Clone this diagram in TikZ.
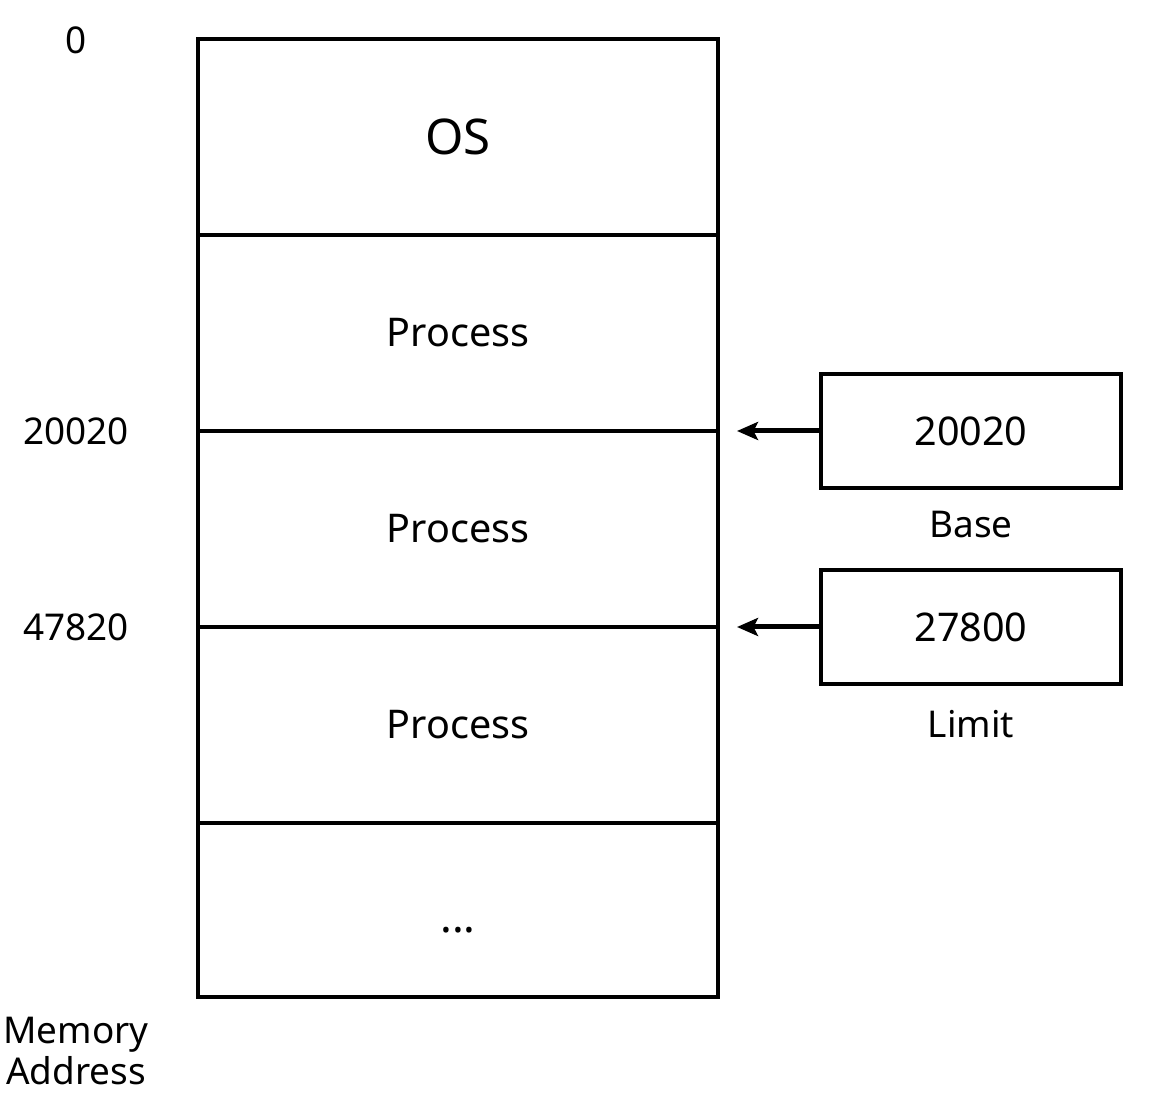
\documentclass[tikz,border=0pt]{standalone}
\usepackage{fontspec}
\setmainfont{Noto Sans}
\usetikzlibrary{arrows.meta,positioning}

\tikzset{
  seg/.style={draw, line width=0.08cm, minimum width=10.4cm, inner sep=0pt, font=\fontsize{22.5}{27}\selectfont},
  regbox/.style={draw, line width=0.07cm, minimum width=6cm, minimum height=2.28cm, inner sep=0pt, font=\fontsize{22.5}{27}\selectfont},
  addr/.style={font=\fontsize{21}{25}\selectfont, align=center},
  ptr/.style={line width=0.1cm, -{Stealth[length=0.42cm, width=0.36cm, inset=0.09cm]}}
}

\begin{document}
\begin{tikzpicture}[x=0.02cm, y=-0.02cm]
\useasboundingbox (0,0) rectangle (1154,1104);

% memory segments
\node[seg, minimum height=3.92cm] (os) at (458,137) {\fontsize{28}{33}\selectfont OS};
\node[seg, minimum height=3.92cm] (p1) at (458,333) {Process};
\node[seg, minimum height=3.92cm] (p2) at (458,529) {Process};
\node[seg, minimum height=3.92cm] (p3) at (458,725) {Process};
\node[seg, minimum height=3.48cm] (rest) at (458,910) {\smash{\raisebox{-0.45cm}{\fontsize{25}{30}\selectfont\bfseries ...}}};

% addresses
\node[addr] (a0) at (76,40) {0};
\node[addr] (a1) at (76,431) {20020};
\node[addr] (a2) at (76,627) {47820};
\node[addr, inner sep=0pt] (mem) at (76,1051) {Memory\\[-2pt]Address};

% base / limit registers
\node[regbox] (base) at (971,431) {20020};
\node[addr, below=0.3cm of base] (baselbl) {Base};
\node[regbox] (limit) at (971,627) {27800};
\node[addr, below=0.36cm of limit] (limitlbl) {Limit};

% ... pointers
\coordinate (tb) at (737,431);
\coordinate (tl) at (737,627);
\draw[ptr] (base.west) -- (tb);
\draw[ptr] (limit.west) -- (tl);

\end{tikzpicture}
\end{document}
